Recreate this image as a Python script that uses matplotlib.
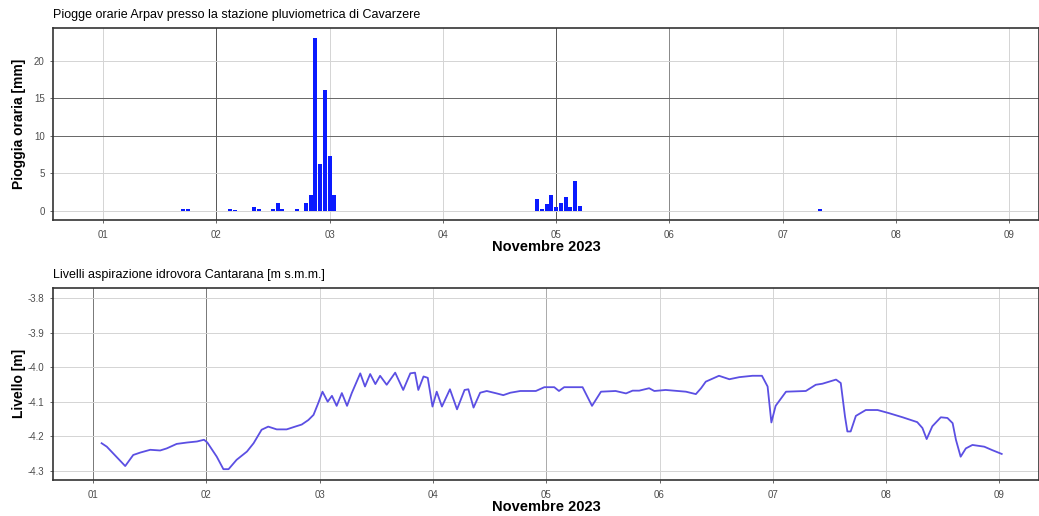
import matplotlib
matplotlib.use("Agg")
import matplotlib.pyplot as plt
import matplotlib.dates as mdates
import pandas as pd

plt.rcParams['font.family'] = ['Liberation Sans', 'DejaVu Sans']
plt.rcParams['axes.unicode_minus'] = False

start = pd.Timestamp('2023-11-01')

# piogge orarie: ore dall'inizio del 1 novembre, mm
rain_hours = [17, 18, 27, 28, 32, 33, 36, 37, 38, 41,
              43, 44, 45, 46, 47, 48, 49,
              92, 93, 94, 95, 96, 97, 98, 99, 100, 101, 152]
rain_mm = [0.2, 0.2, 0.2, 0.1, 0.5, 0.2, 0.2, 1.1, 0.2, 0.3,
           1.1, 2.1, 23.1, 6.3, 16.1, 7.3, 2.1,
           1.6, 0.3, 0.9, 2.1, 0.5, 1.0, 1.8, 0.5, 4.0, 0.6, 0.3]

# livelli idrovora: ore dall'inizio del 1 novembre, m s.m.m.
lev_hours = [1.8, 2.9, 6.8, 8.5, 10.0, 12.1, 14.2, 15.6, 17.7, 19.9,
             22.0, 23.5, 24.2, 26.2, 27.6, 28.7, 30.4, 32.6, 34.0, 35.7,
             37.1, 38.9, 41.0, 42.8, 44.2, 45.6, 46.7, 47.7, 48.6, 49.7,
             50.6, 51.6, 52.7, 53.8, 54.8, 56.6, 57.6, 58.7, 59.8, 60.8,
             62.2, 64.0, 65.7, 67.2, 68.2, 68.9, 70.0, 70.9, 71.9, 72.8,
             73.9, 75.6, 77.1, 78.7, 79.5, 80.6, 82.0, 83.4, 85.5, 86.9,
             88.4, 90.5, 93.8, 95.6, 97.7, 98.7, 99.8, 103.7, 104.7, 105.7,
             107.6, 110.7, 112.9, 114.3, 115.7, 117.8, 118.9, 121.3, 125.6, 127.7,
             128.8, 129.8, 132.6, 134.8, 136.9, 139.7, 141.7, 142.9, 143.7, 144.6,
             146.8, 151.0, 153.1, 154.5, 157.4, 158.4, 159.3, 159.8, 160.5, 161.6,
             163.7, 166.2, 168.6, 171.5, 174.6, 175.7, 176.6, 177.8, 179.6, 181.0,
             182.1, 182.8, 183.8, 184.9, 186.3, 188.8, 190.5, 192.5]
lev_m = [-4.220, -4.230, -4.286, -4.254, -4.247, -4.239, -4.241, -4.235, -4.222, -4.218,
         -4.215, -4.210, -4.218, -4.259, -4.295, -4.295, -4.268, -4.244, -4.220, -4.181,
         -4.172, -4.180, -4.180, -4.172, -4.166, -4.153, -4.138, -4.104, -4.071, -4.100,
         -4.083, -4.112, -4.075, -4.112, -4.075, -4.018, -4.056, -4.020, -4.049, -4.025,
         -4.051, -4.016, -4.066, -4.018, -4.016, -4.066, -4.027, -4.031, -4.114, -4.071,
         -4.114, -4.064, -4.122, -4.066, -4.064, -4.117, -4.074, -4.069, -4.076, -4.081,
         -4.074, -4.069, -4.069, -4.058, -4.058, -4.069, -4.058, -4.058, -4.085, -4.112,
         -4.071, -4.069, -4.076, -4.068, -4.068, -4.061, -4.069, -4.066, -4.071, -4.078,
         -4.061, -4.042, -4.025, -4.035, -4.029, -4.025, -4.025, -4.056, -4.160, -4.112,
         -4.071, -4.069, -4.051, -4.048, -4.036, -4.046, -4.143, -4.186, -4.186, -4.141,
         -4.124, -4.124, -4.133, -4.145, -4.159, -4.176, -4.208, -4.171, -4.145, -4.147,
         -4.162, -4.210, -4.259, -4.235, -4.225, -4.230, -4.240, -4.251]

rain_t = start + pd.to_timedelta(rain_hours, unit='h')
lev_t = start + pd.to_timedelta(lev_hours, unit='h')


def style(ax):
    for s in ax.spines.values():
        s.set_color('#333333')
        s.set_linewidth(1.2)
    ax.tick_params(axis='both', labelsize=7, colors='#4d4d4d', length=2.5, width=0.6)
    ax.tick_params(axis='x', pad=5)
    ax.xaxis.set_major_locator(mdates.DayLocator())
    ax.xaxis.set_major_formatter(mdates.DateFormatter('%d'))
    ax.grid(True, color='#d4d4d4', linewidth=0.7)
    ax.set_axisbelow(True)


fig = plt.figure(figsize=(10.39, 5.16), dpi=100)

# pannello piogge
ax1 = fig.add_axes([0.051, 0.574, 0.949, 0.372])
ax1.bar(rain_t, rain_mm, width=0.85 / 24, color='#0a1aff', edgecolor='none')
style(ax1)
ax1.set_xlim(start - pd.Timedelta(hours=10.6), start + pd.Timedelta(hours=198.3))
ax1.set_ylim(-1.2, 24.4)
ax1.set_yticks([0, 5, 10, 15, 20])
ax1.set_ylabel('Pioggia oraria [mm]', fontsize=10, fontweight='bold')
ax1.yaxis.set_label_coords(-0.027, 0.5)
ax1.set_xlabel('Novembre 2023', fontsize=10.5, fontweight='bold', labelpad=0)
ax1.set_title('Piogge orarie Arpav presso la stazione pluviometrica di Cavarzere',
              loc='left', fontsize=9, pad=7)
xg = ax1.get_xgridlines()
for i in (1, 4):
    xg[i].set_color('#555555')
xg[5].set_color('#888888')
yg = ax1.get_ygridlines()
for i in (2, 3):
    yg[i].set_color('#666666')

# pannello livelli
ax2 = fig.add_axes([0.051, 0.070, 0.949, 0.372])
ax2.plot(lev_t, lev_m, color='#5b4fe3', linewidth=1.3)
style(ax2)
ax2.set_xlim(start - pd.Timedelta(hours=8.5), start + pd.Timedelta(hours=200.4))
ax2.set_ylim(-4.326, -3.771)
ax2.set_yticks([-4.3, -4.2, -4.1, -4.0, -3.9, -3.8])
ax2.set_ylabel('Livello [m]', fontsize=10, fontweight='bold')
ax2.yaxis.set_label_coords(-0.027, 0.5)
ax2.set_xlabel('Novembre 2023', fontsize=10.5, fontweight='bold', labelpad=0)
ax2.set_title('Livelli aspirazione idrovora Cantarana [m s.m.m.]',
              loc='left', fontsize=9, pad=7)
xg = ax2.get_xgridlines()
for i in (0, 1):
    xg[i].set_color('#777777')
xg[4].set_color('#aaaaaa')

fig.savefig('out.png', dpi=100)
